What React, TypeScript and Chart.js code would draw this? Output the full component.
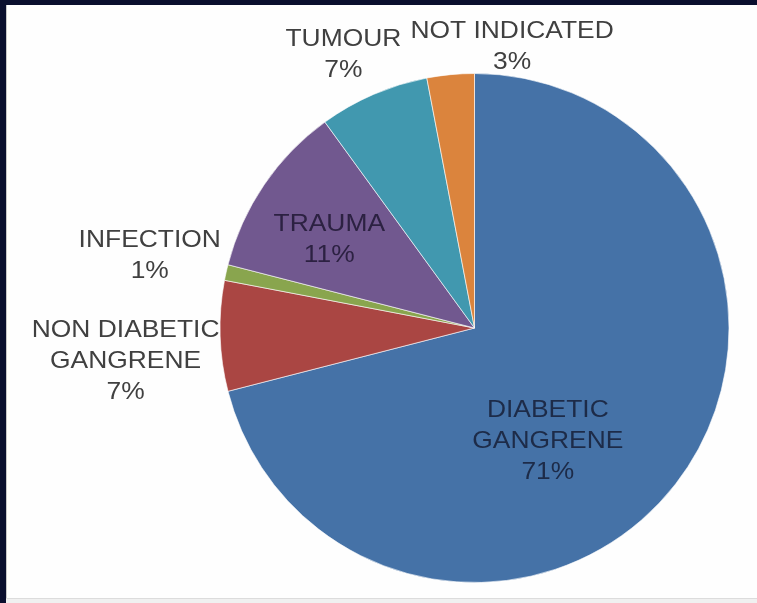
import React, { useEffect, useRef } from "react";
import { Chart, registerables } from "chart.js";

Chart.register(...registerables);

const categories = ["DIABETIC GANGRENE", "NON DIABETIC GANGRENE", "INFECTION", "TRAUMA", "TUMOUR", "NOT INDICATED"];
const labelLines = [["DIABETIC", "GANGRENE"], ["NON DIABETIC", "GANGRENE"], ["INFECTION"], ["TRAUMA"], ["TUMOUR"], ["NOT INDICATED"]];
const values = [71, 7, 1, 11, 7, 3];
const colors = ["#4572A7", "#AA4643", "#89A54E", "#71588F", "#4198AF", "#DB843D"];
// label placement: polar angle (deg, canvas coords) and distance as fraction of radius
const labelAngles = [57.0, 174.6, -167.5, -148.8, -115.6, -82.4];
const labelDist = [0.529, 1.377, 1.307, 0.667, 1.192, 1.116];
const labelColors = ["#1d2b48", "#404040", "#404040", "#2c2142", "#404040", "#404040"];

const labelPlugin = {
  id: "sliceLabels",
  afterDraw(chart: any) {
    const meta = chart.getDatasetMeta(0);
    const ctx = chart.ctx;
    const total = values.reduce((a, b) => a + b, 0);
    meta.data.forEach((arc: any, i: number) => {
      const { x, y, outerRadius } = arc.getProps(["x", "y", "outerRadius"], true);
      const a = (labelAngles[i] * Math.PI) / 180;
      const cx = x + Math.cos(a) * outerRadius * labelDist[i];
      const cy = y + Math.sin(a) * outerRadius * labelDist[i];
      const lines = [...labelLines[i], Math.round((values[i] / total) * 100) + "%"];
      const lh = 31;
      const startY = cy - ((lines.length - 1) * lh) / 2;
      ctx.save();
      ctx.font = '24px "Liberation Sans", Arial, sans-serif';
      ctx.fillStyle = labelColors[i];
      ctx.textAlign = "center";
      ctx.textBaseline = "middle";
      lines.forEach((t, j) => {
        ctx.save();
        ctx.translate(cx, startY + j * lh);
        ctx.scale(1.1, 1);
        ctx.fillText(t, 0, 0);
        ctx.restore();
      });
      ctx.restore();
    });
  },
};

export default function App() {
  const ref = useRef<HTMLCanvasElement>(null);
  useEffect(() => {
    document.body.style.margin = "0";
    const chart = new Chart(ref.current!, {
      type: "pie",
      data: {
        labels: categories,
        datasets: [
          {
            data: values,
            backgroundColor: colors,
            borderColor: "rgba(255,255,255,0.6)",
            borderWidth: 1,
          },
        ],
      },
      options: {
        animation: false,
        responsive: false,
        layout: { padding: { top: 73, bottom: 20, left: 219, right: 27 } },
        plugins: { legend: { display: false }, tooltip: { enabled: false } },
      },
      plugins: [labelPlugin],
    });
    return () => chart.destroy();
  }, []);
  return (
    <div style={{ position: "fixed", left: 0, top: 0, width: 757, height: 603, background: "#0a0f2e", overflow: "hidden" }}>
      <div style={{ position: "absolute", left: 6, top: 5, width: 751, height: 593, background: "#fefefe", borderLeft: "1px solid #c8c8c8", boxSizing: "border-box" }} />
      <div style={{ position: "absolute", left: 6, top: 598, width: 751, height: 5, background: "#f0f0f0", borderTop: "1px solid #dcdcdc", boxSizing: "border-box" }} />
      <canvas ref={ref} width={757} height={603} style={{ position: "absolute", left: 0, top: 0 }} />
    </div>
  );
}
